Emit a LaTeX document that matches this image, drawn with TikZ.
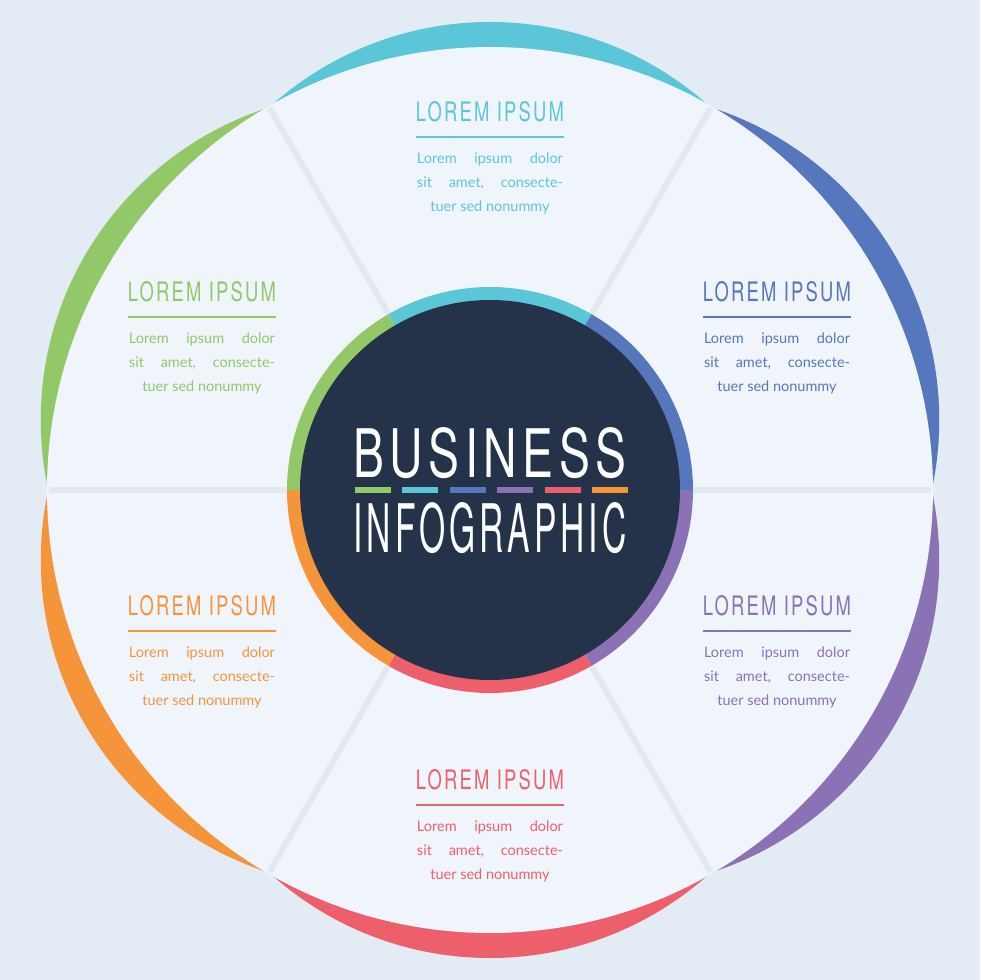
\documentclass[tikz,border=0pt]{standalone}
\usepackage{fontspec}
\setmainfont{Lato}
\newfontfamily\headfont[LetterSpace=12]{TeX Gyre Heros}
\definecolor{bgc}{HTML}{E3EBF4}
\definecolor{panel}{HTML}{F0F5FB}
\definecolor{divc}{HTML}{E2E8F0}
\definecolor{darkc}{HTML}{243349}
\definecolor{ccyan}{HTML}{5BC6D8}
\definecolor{cblue}{HTML}{5677BD}
\definecolor{cpurple}{HTML}{8B72B5}
\definecolor{cred}{HTML}{EE5F6C}
\definecolor{corange}{HTML}{F6943A}
\definecolor{cgreen}{HTML}{93C868}
\tikzset{
  ttl/.style={inner sep=0pt,font=\headfont},
  bodytxt/.style={inner sep=0pt,align=center,font=\fontsize{14.5}{23.8}\selectfont},
}
\newcommand{\mybody}{\hbox to 146pt{Lorem\hfill ipsum\hfill dolor}\\\hbox to 146pt{sit\hfill amet,\hfill consecte-}\\tuer sed nonummy}
\begin{document}
\begin{tikzpicture}[x=1pt,y=1pt]
\useasboundingbox (-490,-490) rectangle (490,490);
\fill[bgc] (-490,-490) rectangle (490,490);
% crescents
\foreach \t/\c in {90/ccyan,30/cblue,-30/cpurple,-90/cred,210/corange,150/cgreen}{
  \begin{scope}
    \clip (0,0)--(\t-30:700)--(\t+30:700)--cycle;
    \fill[\c] (\t:140) circle (328);
  \end{scope}
}
\fill[panel] (0,0) circle (443);
\foreach \a in {0,60,...,300}{
  \draw[divc,line width=6pt] (\a:200) -- (\a:441);
}
% ring
\foreach \s/\c in {60/ccyan,0/cblue,-60/cpurple,-120/cred,180/corange,120/cgreen}{
  \fill[\c] (\s:203) arc (\s:\s+60:203) -- (0,0) -- cycle;
}
\fill[darkc] (0,0) circle (190);
\node[ttl,white] (bus) at (0,37) {\resizebox{273pt}{50pt}{BUSINESS}};
\node[ttl,white] (info) at (0,-38) {\resizebox{273pt}{50pt}{INFOGRAPHIC}};
\foreach \c [count=\k from 0] in {cgreen,ccyan,cblue,cpurple,cred,corange}{
  \fill[\c] (-135+\k*47.4,-2.5) rectangle ++(36,5);
}
% sector texts
\foreach \x/\y/\c/\n in {0/378/ccyan/a,287/198/cblue/b,-288/198/cgreen/c,287/-116/cpurple/d,-288/-116/corange/e,0/-290/cred/f}{
  \node[ttl,text=\c] (t\n) at (\x,\y) {\resizebox{148pt}{20pt}{LOREM IPSUM}};
  \draw[\c,line width=2.5pt] (\x-74,\y-25) -- (\x+74,\y-25);
  \node[bodytxt,text=\c,anchor=north] (b\n) at (\x,\y-41) {\mybody};
}
\end{tikzpicture}
\end{document}
